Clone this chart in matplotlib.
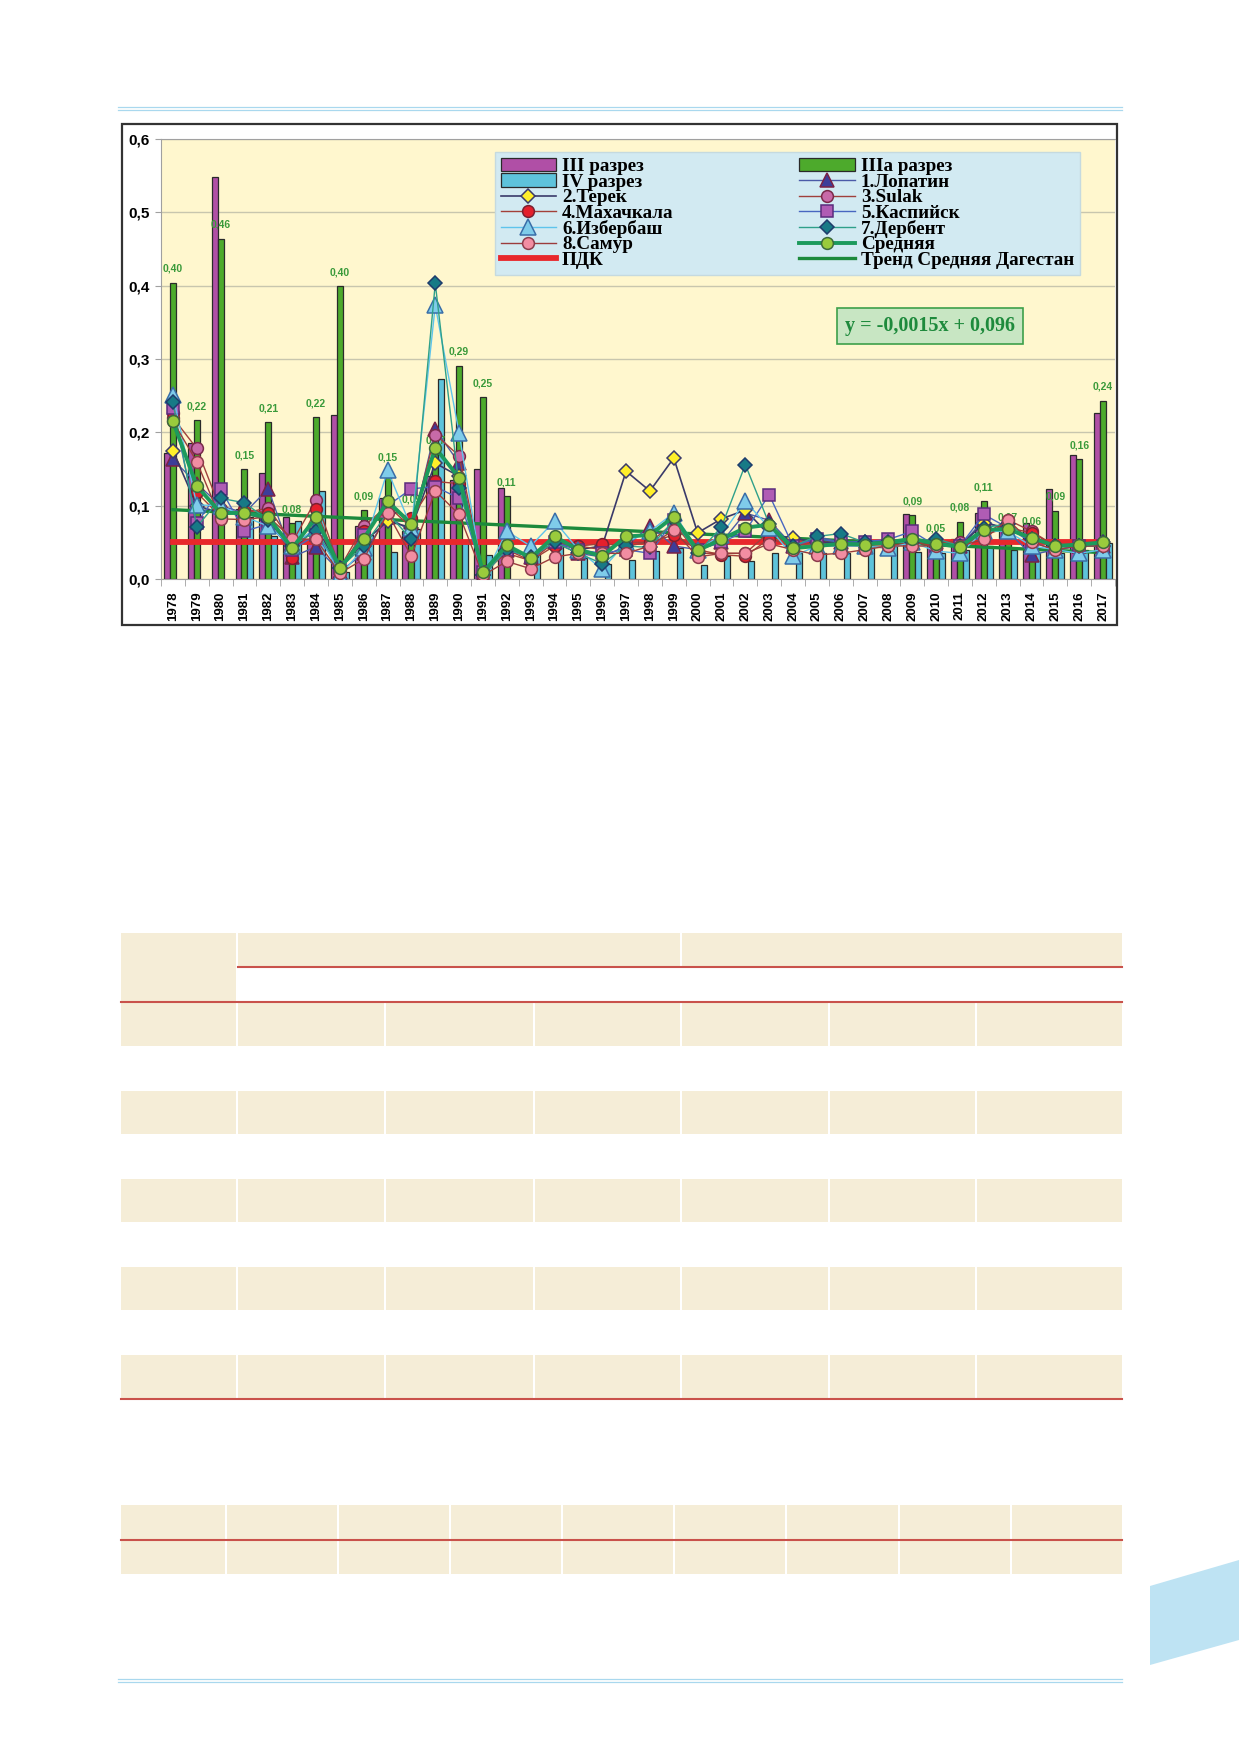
import numpy as np
import matplotlib
matplotlib.use('Agg')
import matplotlib.pyplot as plt
from matplotlib.patches import Rectangle, Polygon

# years on the x axis
years = list(range(1978, 2018))

# bars: III, IIIa and IV sections (None = no data)
iii_razrez = [0.172, 0.186, 0.548, 0.095, 0.145, 0.085, 0.050, 0.223, 0.072, 0.110,
              0.065, 0.140, 0.135, 0.150, 0.124, None, None, None, None, None,
              None, None, None, None, None, None, None, None, None, None,
              None, 0.088, 0.051, 0.054, 0.090, 0.072, 0.076, 0.123, 0.169, 0.226]
iiia_razrez = [0.404, 0.217, 0.464, 0.150, 0.214, 0.076, 0.221, 0.399, 0.094, 0.147,
               0.090, 0.170, 0.291, 0.248, 0.113, None, None, None, None, None,
               None, None, None, None, None, None, None, None, None, None,
               None, 0.087, 0.050, 0.078, 0.106, 0.065, 0.060, 0.093, 0.163, 0.243]
iv_razrez = [None, None, None, 0.085, 0.058, 0.079, 0.120, 0.010, 0.060, 0.037,
             0.068, 0.273, 0.050, 0.033, None, 0.035, 0.045, 0.029, 0.020, 0.026,
             0.038, 0.042, 0.019, 0.031, 0.024, 0.035, 0.035, 0.035, 0.035, 0.045,
             0.045, 0.037, 0.035, 0.040, 0.045, 0.040, 0.035, 0.035, 0.040, 0.049]

# stations
lopatin = [0.163, 0.130, 0.100, 0.090, 0.123, 0.030, 0.044, 0.010, 0.035, 0.085,
           0.065, 0.204, 0.158, 0.005, 0.040, 0.030, 0.050, 0.035, 0.030, 0.045,
           0.072, 0.045, 0.040, 0.050, 0.090, 0.080, 0.045, 0.058, 0.050, 0.045,
           0.042, 0.050, 0.050, 0.045, 0.080, 0.065, 0.033, 0.040, 0.045, 0.045]
terek = [0.175, 0.100, 0.090, 0.090, 0.080, 0.040, 0.070, 0.015, 0.050, 0.079,
         0.070, 0.158, 0.140, 0.005, 0.040, 0.030, 0.050, 0.040, 0.045, 0.147,
         0.120, 0.165, 0.063, 0.082, 0.094, 0.060, 0.056, 0.050, 0.050, 0.050,
         0.050, 0.050, 0.050, 0.045, 0.076, 0.070, 0.055, 0.045, 0.045, 0.050]
sulak = [0.220, 0.178, 0.095, 0.090, 0.097, 0.050, 0.108, 0.015, 0.072, 0.100,
         0.070, 0.197, 0.168, 0.010, 0.040, 0.025, 0.050, 0.045, 0.040, 0.050,
         0.050, 0.076, 0.035, 0.035, 0.035, 0.064, 0.045, 0.050, 0.045, 0.045,
         0.050, 0.050, 0.050, 0.051, 0.060, 0.081, 0.065, 0.045, 0.045, 0.045]
mahachkala = [0.226, 0.118, 0.085, 0.095, 0.090, 0.029, 0.095, 0.012, 0.065, 0.095,
              0.083, 0.133, 0.130, 0.010, 0.035, 0.025, 0.045, 0.045, 0.048, 0.045,
              0.050, 0.060, 0.040, 0.033, 0.031, 0.055, 0.045, 0.045, 0.045, 0.045,
              0.045, 0.050, 0.045, 0.045, 0.060, 0.070, 0.063, 0.045, 0.045, 0.045]
kaspiysk = [0.233, 0.076, 0.123, 0.065, 0.075, 0.040, 0.060, 0.015, 0.060, 0.100,
            0.123, 0.126, 0.110, 0.010, 0.040, 0.030, 0.050, 0.040, 0.035, 0.040,
            0.035, 0.080, 0.040, 0.050, 0.065, 0.115, 0.045, 0.055, 0.050, 0.051,
            0.054, 0.065, 0.045, 0.045, 0.088, 0.070, 0.050, 0.040, 0.045, 0.045]
izberbash = [0.251, 0.101, 0.100, 0.085, 0.072, 0.045, 0.070, 0.005, 0.042, 0.148,
             0.070, 0.373, 0.199, 0.000, 0.065, 0.045, 0.079, 0.040, 0.013, 0.050,
             0.065, 0.090, 0.040, 0.060, 0.106, 0.070, 0.031, 0.045, 0.045, 0.045,
             0.042, 0.050, 0.038, 0.035, 0.065, 0.065, 0.045, 0.040, 0.035, 0.040]
derbent = [0.241, 0.071, 0.110, 0.104, 0.080, 0.045, 0.065, 0.015, 0.045, 0.090,
           0.054, 0.403, 0.124, 0.005, 0.040, 0.030, 0.050, 0.035, 0.021, 0.045,
           0.043, 0.080, 0.035, 0.071, 0.156, 0.075, 0.045, 0.058, 0.062, 0.050,
           0.050, 0.050, 0.055, 0.045, 0.070, 0.075, 0.055, 0.045, 0.045, 0.045]
samur = [0.215, 0.160, 0.082, 0.081, 0.085, 0.055, 0.054, 0.008, 0.027, 0.090,
         0.031, 0.120, 0.088, 0.005, 0.024, 0.014, 0.030, 0.035, 0.035, 0.035,
         0.045, 0.067, 0.030, 0.035, 0.035, 0.048, 0.040, 0.033, 0.035, 0.040,
         0.045, 0.045, 0.045, 0.045, 0.054, 0.081, 0.050, 0.040, 0.045, 0.045]
srednyaya = [0.215, 0.127, 0.090, 0.090, 0.084, 0.042, 0.084, 0.015, 0.055, 0.106,
             0.075, 0.179, 0.138, 0.009, 0.046, 0.029, 0.058, 0.040, 0.031, 0.058,
             0.060, 0.085, 0.039, 0.054, 0.070, 0.074, 0.042, 0.045, 0.048, 0.047,
             0.050, 0.055, 0.048, 0.044, 0.067, 0.068, 0.056, 0.045, 0.047, 0.050]

pdk_value = 0.05
trend_slope = -0.0015
trend_intercept = 0.096

y_ticks = [0.0, 0.1, 0.2, 0.3, 0.4, 0.5, 0.6]

W, H = 1239, 1752
fig = plt.figure(figsize=(W / 100, H / 100), dpi=100)

# page decoration in pixel coordinates
bg = fig.add_axes([0, 0, 1, 1], zorder=0)
bg.set_xlim(0, W)
bg.set_ylim(H, 0)
bg.axis('off')

beige = '#F5EDD7'
red_rule = '#C9524B'
pale_blue = '#A9D8EE'

for yy in (106.5, 109.5, 1678.5, 1681.5):
    bg.plot([118, 1122], [yy, yy], color=pale_blue, lw=0.9)

bg.add_patch(Polygon([(1150, 1586), (1239, 1560), (1239, 1640), (1150, 1665)],
                     closed=True, fc='#BEE3F3', ec='none'))

def beige_row(x0, x1, y0, y1, seps):
    bg.add_patch(Rectangle((x0, y0), x1 - x0, y1 - y0, fc=beige, ec='none'))
    for s in seps:
        bg.add_patch(Rectangle((s - 1.3, y0), 2.6, y1 - y0, fc='white', ec='none'))

cols1 = [237, 385, 534, 681, 829, 976]
# table 1 header
beige_row(121, 236, 933, 1001, [])
beige_row(238, 1122, 933, 966, [681])
bg.plot([238, 1122], [967, 967], color=red_rule, lw=1.5)
bg.plot([121, 1122], [1002, 1002], color=red_rule, lw=1.5)
for r0 in (1003, 1091, 1179, 1267, 1355):
    beige_row(121, 1122, r0, r0 + 43, cols1)
bg.plot([121, 1122], [1399, 1399], color=red_rule, lw=1.5)

# table 2
cols2 = [226, 338, 450, 562, 674, 786, 899, 1011]
beige_row(121, 1122, 1505, 1539, cols2)
beige_row(121, 1122, 1541, 1574, cols2)
bg.plot([121, 1122], [1540, 1540], color=red_rule, lw=1.5)

# chart frame
bg.add_patch(Rectangle((122, 124), 995, 501, fc='white', ec='#333333', lw=1.6))

# main chart
ax = fig.add_axes([161 / W, 1 - 579 / H, 954 / W, 440 / H], zorder=2)
ax.set_facecolor('#FFF7CE')

x = np.arange(len(years))
bw = 0.25
iii = np.array(iii_razrez, dtype=float)
iiia = np.array(iiia_razrez, dtype=float)
iv = np.array(iv_razrez, dtype=float)

m = ~np.isnan(iii)
b_iii = ax.bar(x[m] - bw, iii[m], bw, color='#B04FA6', edgecolor='#2A2A2A', lw=0.9, zorder=2)
m = ~np.isnan(iiia)
b_iiia = ax.bar(x[m], iiia[m], bw, color='#4DAA2C', edgecolor='#2A2A2A', lw=0.9, zorder=2)
for xi, v in zip(x[m], iiia[m]):
    ax.text(xi, v + 0.012, f'{v:.2f}'.replace('.', ','), ha='center', va='bottom',
            fontsize=7.5, fontweight='bold', color='#3A9A3A',
            family='Liberation Sans', zorder=2.5)
m = ~np.isnan(iv)
b_iv = ax.bar(x[m] + bw, iv[m], bw, color='#5EC3DB', edgecolor='#2A2A2A', lw=0.9, zorder=2)

# ПДК and trend
pdk_line, = ax.plot([x[0], x[-1]], [pdk_value, pdk_value], color='#E8282C', lw=4.2, zorder=3)
trend = trend_slope * (x + 1) + trend_intercept
trend_line, = ax.plot(x, trend, color='#1C8A3C', lw=2.4, zorder=3.2)

styles = {
    '1.Лопатин': (lopatin, '^', 10, '#3D3D99', '#7B2246', '#4B5BA8', 1.0),
    '2.Терек': (terek, 'D', 7, '#FFEF2A', '#3A3A6A', '#3A3A6A', 1.2),
    '3.Sulak': (sulak, 'o', 8.5, '#C86AA8', '#7A2A4A', '#A0403C', 1.0),
    '4.Махачкала': (mahachkala, 'o', 8.5, '#E4202C', '#7A2030', '#A34038', 1.0),
    '5.Каспийск': (kaspiysk, 's', 8, '#B05CB4', '#5B2C7C', '#4866C0', 1.0),
    '6.Избербаш': (izberbash, '^', 11, '#7FCCEA', '#3A6EA8', '#5EC4EC', 1.0),
    '7.Дербент': (derbent, 'D', 7.5, '#177A86', '#1E3C6C', '#2FA08A', 1.0),
    '8.Самур': (samur, 'o', 8.5, '#F28DA2', '#8C3C4C', '#9C3C3C', 1.0),
    'Средняя': (srednyaya, 'o', 8.5, '#9ACB3C', '#3C6A3C', '#1C9A5C', 2.8),
}
h = {}
for i, (name, (vals, mk, ms, fc, ec, lc, lw)) in enumerate(styles.items()):
    h[name], = ax.plot(x, vals, color=lc, lw=lw, marker=mk, ms=ms, mfc=fc, mec=ec,
                       mew=1.1, zorder=4 + i * 0.1)

ax.set_xlim(-0.5, len(years) - 0.5)
ax.set_ylim(0, 0.6)
ax.set_yticks(y_ticks)
ax.set_yticklabels([f'{t:.1f}'.replace('.', ',') for t in y_ticks],
                   fontsize=11, fontweight='bold', family='Liberation Sans')
ax.set_xticks(x)
ax.set_xticklabels([str(y) for y in years], rotation=90, fontsize=9.5,
                   fontweight='bold', family='Liberation Sans')
ax.set_xticks(np.arange(-0.5, len(years), 1), minor=True)
ax.tick_params(axis='x', which='major', length=0, pad=9)
ax.tick_params(axis='x', which='minor', length=5, color='#A0A0A0')
ax.tick_params(axis='y', length=4, color='#A0A0A0', pad=4)
ax.yaxis.grid(True, color='#C8C6AE', lw=1)
ax.set_axisbelow(True)
for s in ['left', 'bottom', 'top']:
    ax.spines[s].set_color('#A0A0A0')
ax.spines['right'].set_visible(False)

handles = [b_iii, b_iv, h['2.Терек'], h['4.Махачкала'], h['6.Избербаш'], h['8.Самур'], pdk_line,
           b_iiia, h['1.Лопатин'], h['3.Sulak'], h['5.Каспийск'], h['7.Дербент'], h['Средняя'],
           trend_line]
labels = ['III разрез', 'IV разрез', '2.Терек', '4.Махачкала', '6.Избербаш', '8.Самур', 'ПДК',
          'IIIa разрез', '1.Лопатин', '3.Sulak', '5.Каспийск', '7.Дербент', 'Средняя',
          'Тренд Средняя Дагестан']
leg = ax.legend(handles, labels, ncol=2, loc='upper left',
                bbox_to_anchor=(0.350, 0.673, 0.613, 0.297), mode='expand',
                borderaxespad=0,
                prop={'family': 'Liberation Serif', 'weight': 'bold', 'size': 13.8},
                labelspacing=-0.1, handlelength=2.9, handletextpad=0.3,
                borderpad=0.3, numpoints=1, fancybox=False, framealpha=1,
                facecolor='#D2EAF2', edgecolor='#C5DADF')
leg.set_zorder(6)

ax.text(0.806, 0.575, 'y = -0,0015x + 0,096', transform=ax.transAxes, ha='center',
        va='center', fontsize=14.5, fontweight='bold', family='Liberation Serif',
        color='#1E8A3C', zorder=7,
        bbox=dict(boxstyle='square,pad=0.4', fc='#C8E6C3', ec='#3DA04A', lw=1.2))

fig.savefig('out.png', dpi=100)
